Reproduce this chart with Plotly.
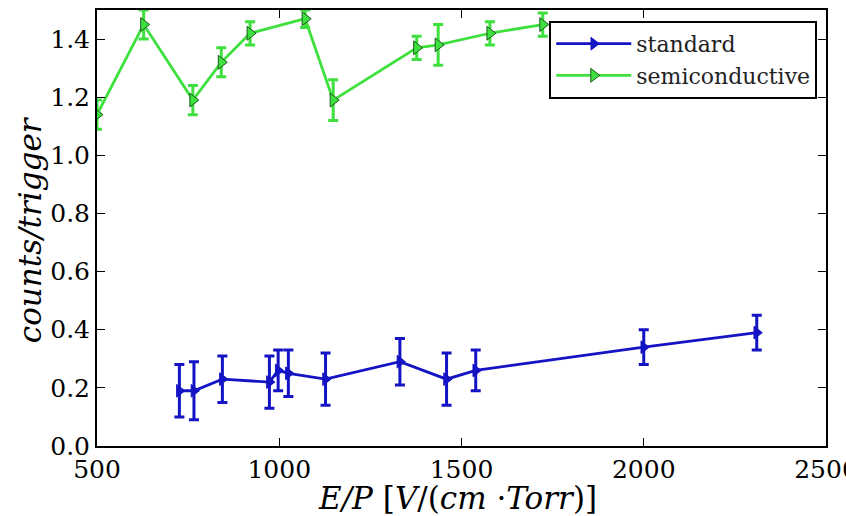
import plotly.graph_objects as go

# standard
std_x = [726, 766, 844, 973, 997, 1025, 1127, 1331, 1459, 1539, 2000, 2310]
std_y = [0.19, 0.19, 0.23, 0.22, 0.26, 0.25, 0.23, 0.29, 0.23, 0.26, 0.34, 0.39]
std_err = [0.09, 0.10, 0.08, 0.09, 0.07, 0.08, 0.09, 0.08, 0.09, 0.07, 0.06, 0.06]

# semiconductive
semi_x = [500, 628, 763, 841, 920, 1071, 1148, 1377, 1436, 1578, 1723]
semi_y = [1.14, 1.45, 1.19, 1.32, 1.42, 1.47, 1.19, 1.37, 1.38, 1.42, 1.45]
semi_err = [0.05, 0.05, 0.05, 0.05, 0.04, 0.03, 0.07, 0.04, 0.07, 0.04, 0.04]

x_ticks = [500, 1000, 1500, 2000, 2500]
y_ticks = [0.0, 0.2, 0.4, 0.6, 0.8, 1.0, 1.2, 1.4]

BLUE = "#1414c4"
GREEN = "#3ee03e"
FONT = "DejaVu Serif"

fig = go.Figure()
fig.add_trace(go.Scatter(
    x=std_x, y=std_y, name="standard", mode="lines+markers",
    line=dict(color=BLUE, width=2.8),
    marker=dict(symbol="triangle-right", size=11, color=BLUE, line=dict(color=BLUE, width=1)),
    error_y=dict(type="data", array=std_err, visible=True, color=BLUE, thickness=3, width=5),
))
fig.add_trace(go.Scatter(
    x=semi_x, y=semi_y, name="semiconductive", mode="lines+markers",
    line=dict(color=GREEN, width=2.8),
    marker=dict(symbol="triangle-right", size=12, color=GREEN, line=dict(color="#1e5a1e", width=1)),
    error_y=dict(type="data", array=semi_err, visible=True, color=GREEN, thickness=3, width=5),
))

axis_common = dict(
    showgrid=False, zeroline=False, showline=True, linecolor="black", linewidth=2,
    mirror="allticks", ticks="inside", ticklen=8, tickwidth=1, tickcolor="black",
    tickfont=dict(family=FONT, size=25, color="black"),
    ticklabeloverflow="allow", automargin=False,
)

fig.update_layout(
    width=846, height=516,
    margin=dict(l=97, r=20, t=10, b=70, autoexpand=False),
    paper_bgcolor="white", plot_bgcolor="white",
    showlegend=True,
    legend=dict(
        x=0.988, y=0.975, xanchor="right", yanchor="top",
        bgcolor="white", bordercolor="black", borderwidth=2,
        font=dict(family=FONT, size=22, color="#222"),
        itemwidth=75, tracegroupgap=0,
    ),
    xaxis=dict(range=[500, 2500], tickvals=x_ticks, ticktext=[str(v) for v in x_ticks], **axis_common),
    yaxis=dict(range=[0, 1.5], tickvals=y_ticks, ticktext=[f"{v:.1f}" for v in y_ticks], **axis_common),
    annotations=[
        dict(text="<i>E/P</i> [<i>V</i>/(<i>cm</i> ·<i>Torr</i>)]", xref="paper", yref="paper",
             x=0.495, y=0, xanchor="center", yanchor="middle", yshift=-52, showarrow=False,
             font=dict(family=FONT, size=31, color="black")),
        dict(text="<i>counts/trigger</i>", xref="paper", yref="paper",
             x=0, y=0.495, xanchor="center", yanchor="middle", xshift=-67, textangle=-90,
             showarrow=False, font=dict(family=FONT, size=31, color="black")),
    ],
)

fig.write_html("out.html", config={"displayModeBar": False},
               post_script="document.body.style.margin='0px';document.body.style.overflow='hidden';")
